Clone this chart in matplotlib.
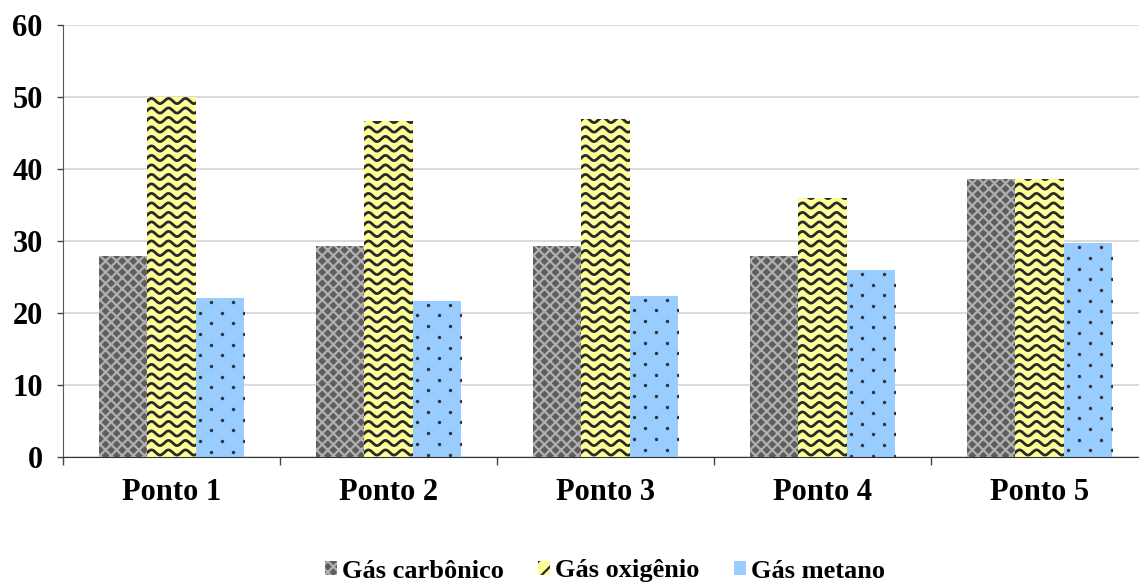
import numpy as np
import matplotlib
matplotlib.use("Agg")
import matplotlib.pyplot as plt
from matplotlib.patches import Patch

# dados
pontos = ['Ponto 1', 'Ponto 2', 'Ponto 3', 'Ponto 4', 'Ponto 5']
gas_carbonico = [27.9, 29.3, 29.3, 27.9, 38.6]
gas_oxigenio = [50.0, 46.7, 46.9, 36.0, 38.6]
gas_metano = [22.1, 21.7, 22.4, 26.0, 29.7]
series_nomes = ['Gás carbônico', 'Gás oxigênio', 'Gás metano']
yticks = [0, 10, 20, 30, 40, 50, 60]

plt.rcParams['font.family'] = ['Liberation Serif', 'DejaVu Serif']
plt.rcParams['font.weight'] = 'bold'
plt.rcParams['hatch.linewidth'] = 1.6

fig = plt.figure(figsize=(11.39, 5.87), dpi=100)
ax = fig.add_axes([63 / 1139, 130 / 587, 1 - 63 / 1139, 432 / 587])

x = np.arange(len(pontos))
w = 0.2235

b1 = ax.bar(x - w, gas_carbonico, w, color='#5e5e5e', edgecolor='#b0b0b0',
            hatch='xxx', linewidth=0, zorder=2)
b2 = ax.bar(x, gas_oxigenio, w, color='#ffff99', linewidth=0, zorder=2)
b3 = ax.bar(x + w, gas_metano, w, color='#99ccff', linewidth=0, zorder=2)

# pixel -> unidades de dados
px_x = 1 / 217.0
px_y = 60 / 432.0

# textura ondulada nas barras de oxigênio
for bar in b2:
    x0, bw, h = bar.get_x(), bar.get_width(), bar.get_height()
    xs = np.linspace(x0, x0 + bw, 200)
    for y0 in np.arange(-5 * px_y, h + 10 * px_y, 9.5 * px_y):
        ys = y0 + 2.6 * px_y * np.sin(2 * np.pi * (xs - x0) / (17 * px_x))
        ln, = ax.plot(xs, ys, color='#2a2a2a', lw=2.0, zorder=3)
        ln.set_clip_path(bar)

# pontos nas barras de metano
for bar in b3:
    x0, bw, h = bar.get_x(), bar.get_width(), bar.get_height()
    pts_x, pts_y = [], []
    for i, yy in enumerate(np.arange(h - 4 * px_y, 0, -10.7 * px_y)):
        start = x0 + (4 if i % 2 else 15) * px_x
        for xx in np.arange(start, x0 + bw, 22 * px_x):
            pts_x.append(xx)
            pts_y.append(yy)
    sc = ax.scatter(pts_x, pts_y, s=6, color='#333333', zorder=3, linewidths=0)
    sc.set_clip_path(bar)

ax.set_ylim(0, 60)
ax.set_xlim(-0.5, (1139 - 63) / 217.0 - 0.5)
ax.set_yticks(yticks)
ax.yaxis.grid(True, color='#d4d4d4', lw=1.2, zorder=0)
ax.set_axisbelow(True)

ax.set_xticks(x)
ax.set_xticklabels(pontos)
ax.set_xticks(np.arange(-0.5, 4.5, 1), minor=True)
ax.tick_params(axis='x', which='major', length=0, pad=15, labelsize=22)
ax.tick_params(axis='x', which='minor', length=6, width=1, color='#444444')
ax.tick_params(axis='y', length=4.5, width=1, color='#444444', pad=10, labelsize=22)

for s in ['top', 'right']:
    ax.spines[s].set_visible(False)
ax.spines['left'].set_color('#555555')
ax.spines['bottom'].set_color('#333333')

handles = [
    Patch(facecolor='#5e5e5e', edgecolor='#b0b0b0', hatch='xxx', linewidth=0),
    Patch(facecolor='#ffff99', edgecolor='#2a2a2a', hatch='//', linewidth=0),
    Patch(facecolor='#99ccff', linewidth=0),
]
# legenda centrada na área do gráfico (que passa da borda direita)
fig.legend(handles, series_nomes, loc='center', bbox_to_anchor=(605 / 1139, 1 - 571 / 587),
           ncol=3, frameon=False, fontsize=19, handlelength=0.45, handleheight=0.45,
           handletextpad=0.2, columnspacing=1.3)

fig.savefig('out.png', dpi=100)
